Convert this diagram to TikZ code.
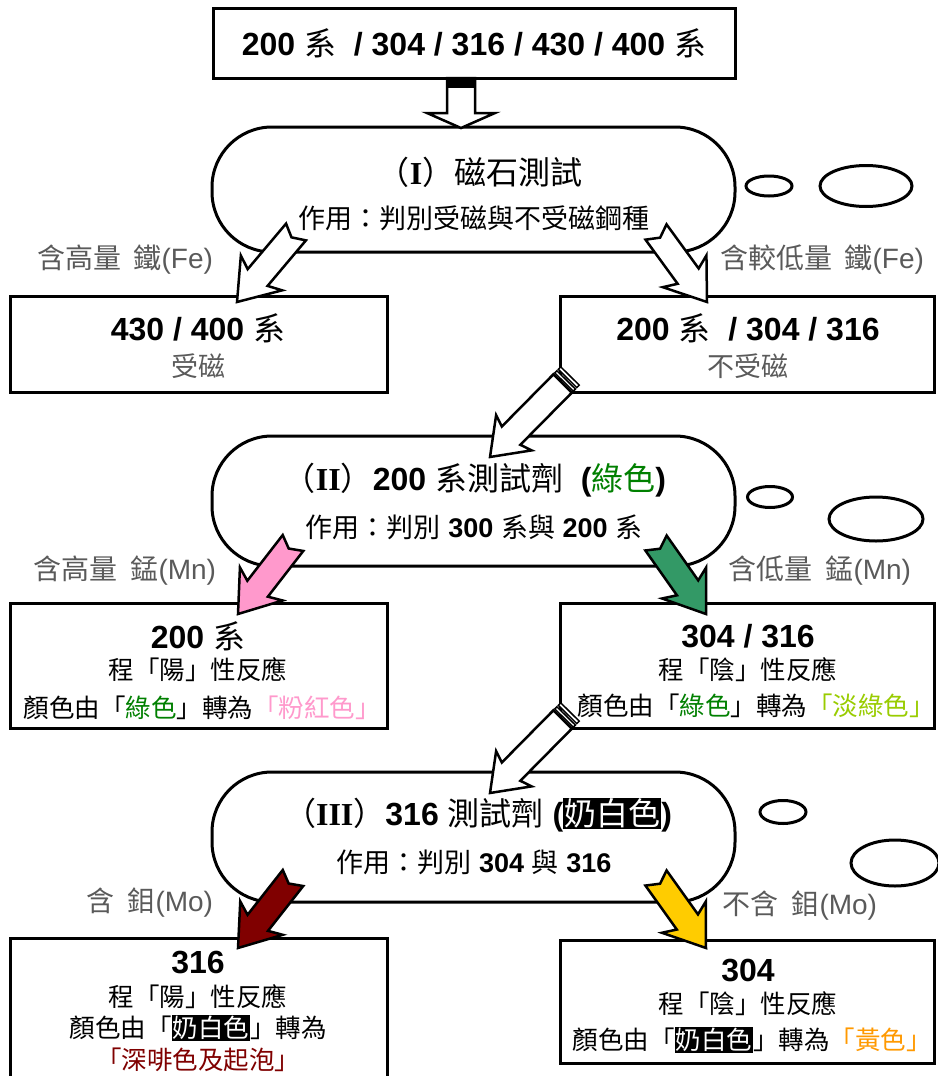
\documentclass[tikz,border=0pt]{standalone}
\usepackage{fontspec}
\setmainfont{Liberation Sans}
\newfontfamily\cjk{Noto Sans CJK TC}
\newfontfamily\tnr{Liberation Serif}
\usetikzlibrary{calc,shapes.geometric}
\definecolor{labgray}{RGB}{90,90,90}
\definecolor{ggreen}{RGB}{0,128,0}
\definecolor{lpink}{RGB}{255,153,204}
\definecolor{lgreen}{RGB}{153,204,0}
\definecolor{orng}{RGB}{255,153,0}
\definecolor{dred}{RGB}{128,0,0}
\definecolor{agreen}{RGB}{51,153,102}
\definecolor{ayellow}{RGB}{255,204,0}
\newcommand\C[1]{{\cjk\mdseries #1}}
\newcommand\hlb[1]{{\setlength\fboxsep{1pt}\colorbox{black}{\color{white}\C{#1}}}}
\newcommand\fs[1]{\fontsize{#1}{#1}\selectfont}
% block arrow: from, to, shaft w, head w, head len, notch, sweep, fill
\newcommand\barrow[8]{%
  \path let \p1=(#1), \p2=(#2) in \pgfextra{%
    \pgfmathsetmacro\baang{atan2(\y2-\y1,\x2-\x1)}%
    \pgfmathsetmacro\balen{veclen(\x2-\x1,\y2-\y1)}%
    \xdef\baang{\baang}\xdef\balen{\balen}\xdef\bax{\x1}\xdef\bay{\y1}};
  \begin{scope}[shift={(\bax,\bay)},rotate=\baang]
    \draw[arrline,fill=#8] (0,#3/2) -- (\balen-#5,#3/2) -- (\balen-#5-#7,#4/2) -- (\balen,0)
      -- (\balen-#5-#7,-#4/2) -- (\balen-#5,-#3/2) -- (0,-#3/2) -- (#6,0) -- cycle;
  \end{scope}}
% striped arrow: from, to
\newcommand\sarrow[2]{%
  \path let \p1=(#1), \p2=(#2) in \pgfextra{%
    \pgfmathsetmacro\baang{atan2(\y2-\y1,\x2-\x1)}%
    \pgfmathsetmacro\balen{veclen(\x2-\x1,\y2-\y1)}%
    \xdef\baang{\baang}\xdef\balen{\balen}\xdef\bax{\x1}\xdef\bay{\y1}};
  \begin{scope}[shift={(\bax,\bay)},rotate=\baang]
    \draw[draw=black,line width=1.5pt,fill=white] (0,-13) rectangle (3.5,13);
    \draw[draw=black,line width=1.5pt,fill=white] (5.5,-13) rectangle (8.5,13);
    \draw[arrline,fill=white] (10.5,13) -- (\balen-30,13) -- (\balen-34,25) -- (\balen,0)
      -- (\balen-34,-25) -- (\balen-30,-13) -- (10.5,-13) -- cycle;
  \end{scope}}
\begin{document}
\begin{tikzpicture}[x=1pt,y=1pt,
  box/.style={draw=black,line width=3pt,fill=white,inner sep=0pt},
  stadium/.style={draw=black,line width=3pt,fill=white,rounded corners=60pt,inner sep=0pt},
  bub/.style={draw=black,line width=3pt,fill=white},
  arrline/.style={draw=black,line width=2.5pt,line join=miter},
  big/.style={font=\fs{32}\bfseries,inner sep=0pt},
  ttl/.style={font=\fs{32},inner sep=0pt},
  sub/.style={font=\fs{27},inner sep=0pt},
  lab/.style={font=\fs{28},text=labgray,inner sep=0pt},
  txt/.style={font=\fs{25.5},inner sep=0pt},
  gtxt/.style={font=\fs{27},text=labgray,inner sep=0pt}]
\useasboundingbox (0,0) rectangle (937,-1076);
\fill[white] (0,0) rectangle (937,-1076);

% top box
\node[box,minimum width=522pt,minimum height=70pt] (top) at (474,-43) {};
% stadiums
\node[stadium,minimum width=523pt,minimum height=125pt] (s1) at (473.5,-189.5) {};
\node[stadium,minimum width=523pt,minimum height=130pt] (s2) at (473.5,-501) {};
\node[stadium,minimum width=523pt,minimum height=130pt] (s3) at (473.5,-837) {};
% boxes
\node[box,minimum width=377pt,minimum height=96pt] (b1l) at (198.5,-344) {};
\node[box,minimum width=374pt,minimum height=96pt] (b1r) at (747,-344) {};
\node[box,minimum width=377pt,minimum height=125pt] (b2l) at (198.5,-665.5) {};
\node[box,minimum width=374pt,minimum height=125pt] (b2r) at (747,-665.5) {};
\node[box,minimum width=374pt,minimum height=123pt] (b3r) at (747,-1001.5) {};
\fill[white] (10,-938) rectangle (387,-1080);
\draw[line width=3pt] (10,-1080) |- (387,-938) -- (387,-1080);
\coordinate (b3l) at (198.5,-1010);

% bubbles
\node[bub,ellipse,minimum width=46pt,minimum height=20pt,inner sep=0pt] (e1a) at (769,-186) {};
\node[bub,ellipse,minimum width=92pt,minimum height=41pt,inner sep=0pt] (e1b) at (866,-186) {};
\node[bub,ellipse,minimum width=45pt,minimum height=21pt,inner sep=0pt] (e2a) at (770,-497) {};
\node[bub,ellipse,minimum width=94pt,minimum height=44pt,inner sep=0pt] (e2b) at (876,-519) {};
\node[bub,ellipse,minimum width=46pt,minimum height=23pt,inner sep=0pt] (e3a) at (783,-812) {};
\node[bub,ellipse,minimum width=88pt,minimum height=46pt,inner sep=0pt] (e3b) at (895,-863) {};

% arrow end points
\coordinate (d0s) at (461,-78);  \coordinate (d0e) at (461,-128);
\coordinate (a1ls) at (296,-232); \coordinate (a1le) at (237,-302);
\coordinate (a1rs) at (656,-232); \coordinate (a1re) at (707,-302);
\coordinate (p1s) at (570,-376); \coordinate (p1e) at (490,-457);
\coordinate (a2ls) at (293,-543); \coordinate (a2le) at (238,-614);
\coordinate (a2rs) at (656,-543); \coordinate (a2re) at (706,-614);
\coordinate (p2s) at (570,-712); \coordinate (p2e) at (490,-793);
\coordinate (a3ls) at (293,-878); \coordinate (a3le) at (238,-948);
\coordinate (a3rs) at (656,-878); \coordinate (a3re) at (706,-948);

% arrows
\barrow{d0s}{d0e}{28}{68}{15}{0}{0}{white}
\fill[black] (447,-78) rectangle (475,-88);
\barrow{a1ls}{a1le}{26}{54}{32}{7}{6}{white}
\barrow{a1rs}{a1re}{26}{54}{32}{7}{6}{white}
\sarrow{p1s}{p1e}
\barrow{a2ls}{a2le}{26}{54}{32}{7}{6}{lpink}
\barrow{a2rs}{a2re}{26}{54}{32}{7}{6}{agreen}
\sarrow{p2s}{p2e}
\barrow{a3ls}{a3le}{26}{54}{32}{7}{6}{dred}
\barrow{a3rs}{a3re}{26}{54}{32}{7}{6}{ayellow}

% texts
\node[big] (tt) at (474,-43) {200 \C{系}\ \ / 304 / 316 / 430 / 400 \C{系}};

\node[ttl] (s1t) at (480,-172) {\C{（}{\tnr\bfseries I}\C{）磁石測試}};
\node[sub] (s1s) at (474,-218) {\C{作用：判別受磁與不受磁鋼種}};
\node[lab] (l1l) at (125,-260) {\C{含高量\ \ 鐵}(Fe)};
\node[lab] (l1r) at (822,-260) {\C{含較低量\ \ 鐵}(Fe)};
\node[big] (b1lt) at (198,-328) {430 / 400 \C{系}};
\node[gtxt] (b1ls) at (198,-366) {\C{受磁}};
\node[big] (b1rt) at (748,-328) {200 \C{系}\ \ / 304 / 316};
\node[gtxt] (b1rs) at (748,-366) {\C{不受磁}};

\node[ttl] (s2t) at (475,-480) {\C{（}{\tnr\bfseries II}\C{）}\textbf{200} \C{系測試劑}\ \ \textbf{(}\C{\color{ggreen}綠色}\textbf{)}};
\node[sub] (s2s) at (474,-527) {\C{作用：判別} \textbf{300} \C{系與} \textbf{200} \C{系}};
\node[lab] (l2l) at (125,-571) {\C{含高量\ \ 錳}(Mn)};
\node[lab] (l2r) at (820,-571) {\C{含低量\ \ 錳}(Mn)};
\node[big] (b2lt) at (198,-636) {200 \C{系}};
\node[txt] (b2la) at (198,-670) {\C{程「陽」性反應}};
\node[txt] (b2lb) at (202,-708) {\C{顏色由「{\color{ggreen}綠色}」轉為{\color{lpink}「粉紅色」}}};
\node[big] (b2rt) at (748,-636) {304 / 316};
\node[txt] (b2ra) at (748,-670) {\C{程「陰」性反應}};
\node[txt] (b2rb) at (756,-706) {\C{顏色由「{\color{ggreen}綠色}」轉為{\color{lgreen}「淡綠色」}}};

\node[ttl] (s3t) at (478,-815) {\C{（}{\tnr\bfseries III}\C{）}\textbf{316} \C{測試劑} \textbf{(}\hlb{奶白色}\textbf{)}};
\node[sub] (s3s) at (474,-862) {\C{作用：判別} \textbf{304} \C{與} \textbf{316}};
\node[lab] (l3l) at (150,-903) {\C{含\ \ 鉬}(Mo)};
\node[lab] (l3r) at (800,-906) {\C{不含\ \ 鉬}(Mo)};
\node[big] (b3lt) at (198,-962) {316};
\node[txt] (b3la) at (198,-997) {\C{程「陽」性反應}};
\node[txt] (b3lb) at (198,-1028) {\C{顏色由「}\hlb{奶白色}\C{」轉為}};
\node[txt] (b3lc) at (198,-1060) {\C{\color{dred}「深啡色及起泡」}};
\node[big] (b3rt) at (748,-970) {304};
\node[txt] (b3ra) at (748,-1004) {\C{程「陰」性反應}};
\node[txt] (b3rb) at (752,-1040) {\C{顏色由「}\hlb{奶白色}\C{」轉為{\color{orng}「黃色」}}};
\end{tikzpicture}
\end{document}
